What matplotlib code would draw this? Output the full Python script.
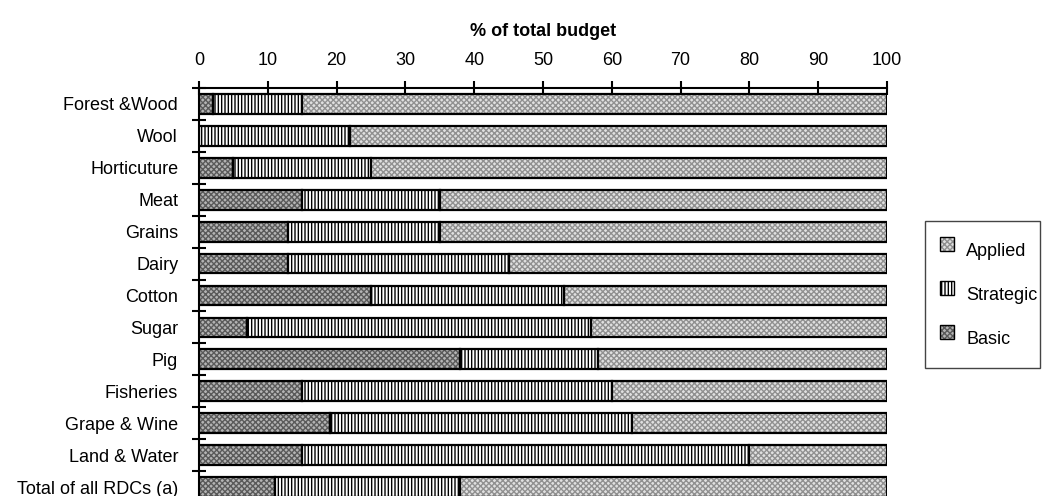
import numpy as np
import matplotlib.pyplot as plt
from matplotlib.patches import Rectangle

plt.rcParams['font.family'] = ['Liberation Sans', 'DejaVu Sans']

categories = ['Forest &Wood', 'Wool', 'Horticuture', 'Meat', 'Grains', 'Dairy',
              'Cotton', 'Sugar', 'Pig', 'Fisheries', 'Grape & Wine',
              'Land & Water', 'Total of all RDCs (a)']
basic = [2, 0, 5, 15, 13, 13, 25, 7, 38, 15, 19, 15, 11]
strategic = [13, 22, 20, 20, 22, 32, 28, 50, 20, 45, 44, 65, 27]
applied = [85, 78, 75, 65, 65, 55, 47, 43, 42, 40, 37, 20, 62]

series = [
    ('Basic', basic, '#b4b4b4', '#5a5a5a', 'xxxxxx'),
    ('Strategic', strategic, 'white', 'black', '|||||'),
    ('Applied', applied, '#e0e0e0', '#909090', 'xxxxxx'),
]

fs = 13
W, H = 1042, 496

fig = plt.figure(figsize=(W / 100, H / 100), dpi=100)
ax = fig.add_axes([199 / W, -7 / H, 688 / W, (H - 88 + 7) / H])

y = np.arange(len(categories))
left = np.zeros(len(categories))
for name, vals, fc, hc, hatch in series:
    vals = np.array(vals, dtype=float)
    # hatch layer first, then a plain black outline on top
    ax.barh(y, vals, left=left, height=0.62, color=fc, edgecolor=hc,
            hatch=hatch, linewidth=0)
    ax.barh(y, vals, left=left, height=0.62, fill=False,
            edgecolor='black', linewidth=1.6)
    left += vals

ax.set_xlim(0, 100)
ax.set_ylim(12.5, -0.5)

ax.xaxis.tick_top()
ax.set_xticks(np.arange(0, 101, 10))
ax.tick_params(axis='x', direction='inout', length=10, width=1.5, pad=9,
               labelsize=fs)
ax.set_xlabel('% of total budget', fontsize=fs, fontweight='bold', labelpad=11)
ax.xaxis.set_label_position('top')

ax.set_yticks(y)
ax.set_yticklabels(categories, fontsize=fs)
ax.set_yticks(np.arange(-0.5, 12.5, 1), minor=True)
ax.tick_params(axis='y', which='major', length=0, pad=15)
ax.tick_params(axis='y', which='minor', direction='inout', length=10, width=1.5)

for side in ['right', 'bottom']:
    ax.spines[side].set_visible(False)
for side in ['top', 'left']:
    ax.spines[side].set_linewidth(1.5)

# legend box on the right, Applied first and Basic last
fig.patches.append(Rectangle((925 / W, 1 - 368 / H), 115 / W, 147 / H,
                             transform=fig.transFigure, fill=False,
                             edgecolor='#444444', linewidth=1.0))
for i, (name, vals, fc, hc, hatch) in enumerate(series[::-1]):
    ty = 252 + i * 44
    box = (940 / W, 1 - (ty - 1) / H)
    fig.patches.append(Rectangle(box, 14 / W, 14 / H,
                                 transform=fig.transFigure, facecolor=fc,
                                 edgecolor=hc, hatch=hatch, linewidth=0))
    fig.patches.append(Rectangle(box, 14 / W, 14 / H,
                                 transform=fig.transFigure, fill=False,
                                 edgecolor='black', linewidth=1.0))
    fig.text(966 / W, 1 - ty / H, name, fontsize=fs, va='center', ha='left')

fig.savefig('out.png', dpi=100)
